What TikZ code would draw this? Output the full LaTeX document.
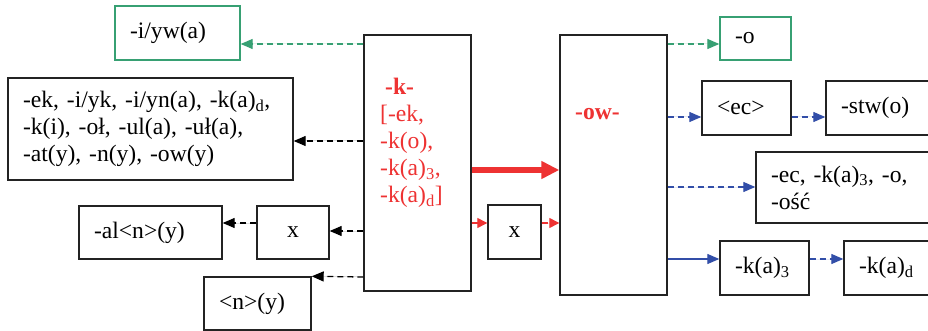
\documentclass[tikz,border=0pt]{standalone}
\usepackage{fontspec}
\setmainfont{Liberation Serif}
\usetikzlibrary{arrows.meta}
\definecolor{kred}{RGB}{238,50,50}
\definecolor{kgreen}{RGB}{55,160,115}
\definecolor{kblue}{RGB}{50,78,168}
\definecolor{kline}{RGB}{35,35,35}
\begin{document}
\begin{tikzpicture}[x=1pt,y=-1pt,
  every node/.style={font=\fontsize{23.6}{27}\selectfont, inner sep=0pt},
  box/.style={draw=kline, line width=1.4pt, rectangle, inner xsep=15pt, align=left},
  gbox/.style={box, draw=kgreen},
  cbox/.style={box, align=center},
  conn/.style={line width=1.3pt, -{Triangle[length=12pt,width=10pt]}},
  dsh/.style={conn, dash pattern=on 6pt off 4pt},
  bk/.style={dsh, draw=black, fill=black},
  gr/.style={dsh, draw=kgreen, fill=kgreen},
  bl/.style={dsh, draw=kblue, fill=kblue},
  blsolid/.style={conn, draw=kblue, fill=kblue},
  rd/.style={dsh, draw=kred, fill=kred, -{Triangle[length=10pt,width=10pt]}},
  thick red/.style={draw=kred, fill=kred, line width=6pt, -{Triangle[length=18pt,width=17pt]}}
]
\clip (0,0) rectangle (928,331);
\fill[white] (0,0) rectangle (928,331);
% row levels
\coordinate (r44) at (0,44);
\coordinate (r117) at (0,117);
\coordinate (r141) at (0,141);
\coordinate (r170) at (0,170);
\coordinate (r187) at (0,187);
\coordinate (r223) at (0,223);
\coordinate (r231) at (0,231);
\coordinate (r259) at (0,259);
\coordinate (r277) at (0,277);

% left side
\node[gbox, text width=95pt, minimum height=54pt] (iyw) at (177.5,33) {-i/yw(a)};
\node[box, text width=255pt, minimum height=102pt] (big) at (150.5,129)
  {-ek, -i/yk, -i/yn(a), -k(a)\textsubscript{d},\\-k(i), -oł, -ul(a), -uł(a),\\-at(y), -n(y), -ow(y)};
\node[box, text width=113pt, minimum height=53pt] (al) at (150.5,232.5) {-al<n>(y)};
\node[cbox, text width=42pt, minimum height=53pt] (xl) at (293,232.5) {x};
\node[box, text width=77pt, minimum height=53pt] (n) at (257.5,303.5) {<n>(y)};

% k box
\node[box, minimum width=107pt, minimum height=256pt] (kbox) at (417.5,163) {};
\node[anchor=north west, align=left, text=kred] (ktext) at (380,78)
  {\hspace{5pt}\textbf{-k-}\\{[}-ek,\\-k(o),\\-k(a)\textsubscript{3},\\-k(a)\textsubscript{d}]};

% middle x
\node[cbox, text width=23pt, minimum height=54pt] (xm) at (514.5,232) {x};

% ow box
\node[box, minimum width=107pt, minimum height=260pt] (ow) at (613.5,165) {};
\node[anchor=west, text=kred] (owtext) at (575,114) {\textbf{-ow-}};

% right side
\node[gbox, text width=41pt, minimum height=43pt] (o) at (755.5,38.5) {-o};
\node[box, text width=59pt, minimum height=54pt] (ec) at (746.5,108) {<ec>};
\node[box, text width=89pt, minimum height=54pt] (stw) at (885.5,108) {-stw(o)};
\node[box, text width=159pt, minimum height=71pt] (eclist) at (850.5,187.5)
  {-ec, -k(a)\textsubscript{3}, -o,\\-ość};
\node[box, text width=59pt, minimum height=54pt] (ka3) at (764.5,268) {-k(a)\textsubscript{3}};
\node[box, text width=71pt, minimum height=54pt] (kad) at (894.5,268) {-k(a)\textsubscript{d}};

% connectors, left
\draw[gr] (kbox.west |- r44) -- (iyw.east |- r44);
\draw[bk] (kbox.west |- r141) -- (big.east |- r141);
\draw[bk] (kbox.west |- r231) -- (xl.east |- r231);
\draw[bk] (xl.west |- r223) -- (al.east |- r223);
\draw[bk] (kbox.west |- r277) -- (n.north east);

% connectors, middle
\draw[thick red] (kbox.east |- r170) -- (ow.west |- r170);
\draw[rd] (kbox.east |- r223) -- (xm.west |- r223);
\draw[rd] (xm.east |- r223) -- (ow.west |- r223);

% connectors, right
\draw[gr] (ow.east |- r44) -- (o.west |- r44);
\draw[bl] (ow.east |- r117) -- (ec.west |- r117);
\draw[bl] (ec.east |- r117) -- (stw.west |- r117);
\draw[bl] (ow.east |- r187) -- (eclist.west |- r187);
\draw[blsolid] (ow.east |- r259) -- (ka3.west |- r259);
\draw[bl] (ka3.east |- r259) -- (kad.west |- r259);
\end{tikzpicture}
\end{document}
